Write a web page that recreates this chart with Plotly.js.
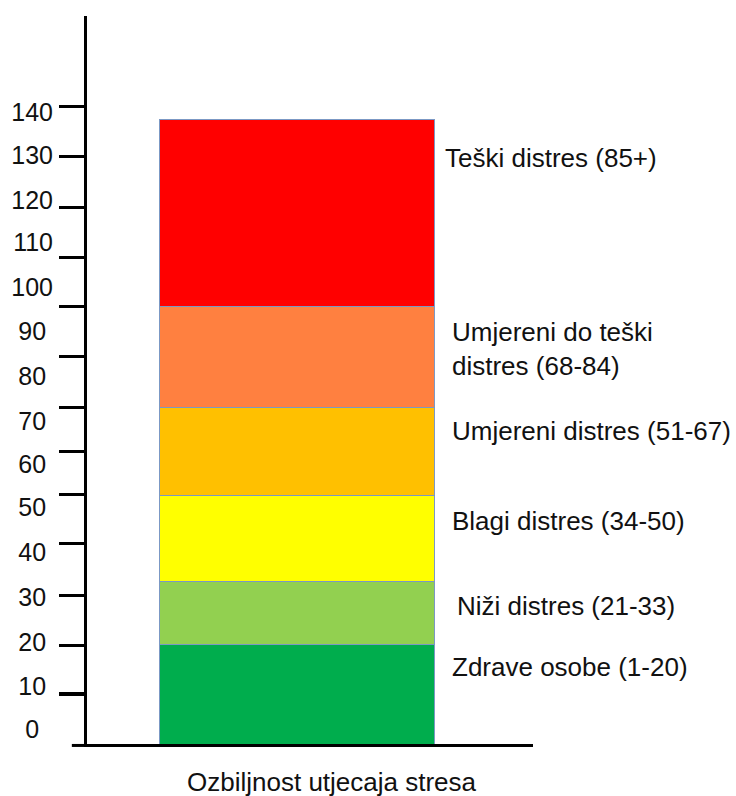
<!DOCTYPE html>
<html>
<head>
<meta charset="utf-8">
<script src="https://cdn.plot.ly/plotly-3.0.1.min.js"></script>
<style>
  html, body { margin: 0; padding: 0; background: #ffffff; }
  #chart { width: 736px; height: 796px; }
</style>
</head>
<body>
<div id="chart"></div>
<script>
// ---- data ----
const categories = ["Ozbiljnost utjecaja stresa"];
const segmentNames = [
  "Zdrave osobe (1-20)",
  "Niži distres (21-33)",
  "Blagi distres (34-50)",
  "Umjereni distres (51-67)",
  "Umjereni do teški<br>distres (68-84)",
  "Teški distres (85+)"
];
// stacked segment heights, in the drawing's own vertical units
const segmentValues = [20, 12.6, 17.2, 17.6, 20.2, 37.4];
const segmentColors = ["#00AD4D", "#92D050", "#FFFF00", "#FFC000", "#FF8040", "#FF0000"];

// tick labels and where they sit (they are not aligned with the tick marks)
const tickLabels = ["0", "10", "20", "30", "40", "50", "60", "70", "80", "90", "100", "110", "120", "130", "140"];
const tickLabelValues = [3, 11.6, 20.4, 29.4, 38.4, 47.4, 56, 64.6, 73.6, 82.6, 91.4, 100.4, 109, 118, 126.6];
// tick marks drawn on the axis line
const tickMarkValues = [10, 19.8, 29.8, 40.2, 50, 58.6, 67.4, 77.6, 87.6, 97.4, 107.4, 117.6, 127.6];

// label positions (vertical, same units) for the segment labels
const labelY = [15.4, 27.6, 44.6, 62.6, 79.2, 117.4];
const labelX = [0.813, 0.826, 0.813, 0.813, 0.815, 0.798];

const yMax = 145.8;
const FONT = "Liberation Sans, Arial, sans-serif";

const traces = segmentValues.map((v, i) => ({
  type: "bar",
  x: categories,
  y: [v],
  name: segmentNames[i],
  width: 0.617,
  marker: { color: segmentColors[i], line: { color: "#7b98c4", width: 1 } },
  hoverinfo: "skip"
}));

const pad = s => s + "\u00a0".repeat(3 - s.length);

const annotations = segmentNames.map((t, i) => ({
  text: t,
  xref: "paper", yref: "y",
  x: labelX[i], y: labelY[i],
  xanchor: "left", yanchor: "middle",
  align: "left",
  showarrow: false,
  font: { family: FONT, size: 26, color: "#111111" }
}));
annotations.push({
  text: categories[0],
  xref: "paper", yref: "paper",
  x: 0.55, y: -0.052,
  xanchor: "center", yanchor: "middle",
  showarrow: false,
  font: { family: FONT, size: 26, color: "#111111" }
});

const layout = {
  width: 736, height: 796,
  margin: { l: 87, r: 203, t: 16, b: 52, pad: 0 },
  paper_bgcolor: "#ffffff",
  plot_bgcolor: "#ffffff",
  barmode: "stack",
  showlegend: false,
  hovermode: false,
  xaxis: {
    type: "category",
    range: [-0.47, 0.53],
    showticklabels: false,
    ticks: "",
    showgrid: false,
    zeroline: false,
    showline: true,
    linecolor: "#000000",
    linewidth: 3,
    fixedrange: true
  },
  yaxis: {
    range: [0, yMax],
    tickmode: "array",
    tickvals: tickMarkValues,
    ticks: "outside",
    ticklen: 25,
    tickwidth: 3.2,
    tickcolor: "#000000",
    showticklabels: false,
    showgrid: false,
    zeroline: false,
    showline: true,
    linecolor: "#000000",
    linewidth: 3,
    fixedrange: true
  },
  yaxis2: {
    overlaying: "y",
    side: "left",
    anchor: "x",
    range: [0, yMax],
    tickmode: "array",
    tickvals: tickLabelValues,
    ticktext: tickLabels.map(pad),
    ticks: "",
    ticklabelstandoff: 33,
    tickfont: { family: FONT, size: 25, color: "#111111" },
    showgrid: false,
    zeroline: false,
    showline: false,
    fixedrange: true
  },
  shapes: [{
    type: "line",
    xref: "paper", yref: "paper",
    x0: -0.034, x1: 0, y0: -0.002, y1: -0.002,
    line: { color: "#000000", width: 3 }
  }],
  annotations: annotations
};

// dummy trace to activate yaxis2 for the label ticks
traces.push({
  type: "scatter", x: categories, y: [null], yaxis: "y2",
  mode: "markers", hoverinfo: "skip", showlegend: false
});

Plotly.newPlot("chart", traces, layout, { displayModeBar: false, staticPlot: true });
</script>
</body>
</html>
